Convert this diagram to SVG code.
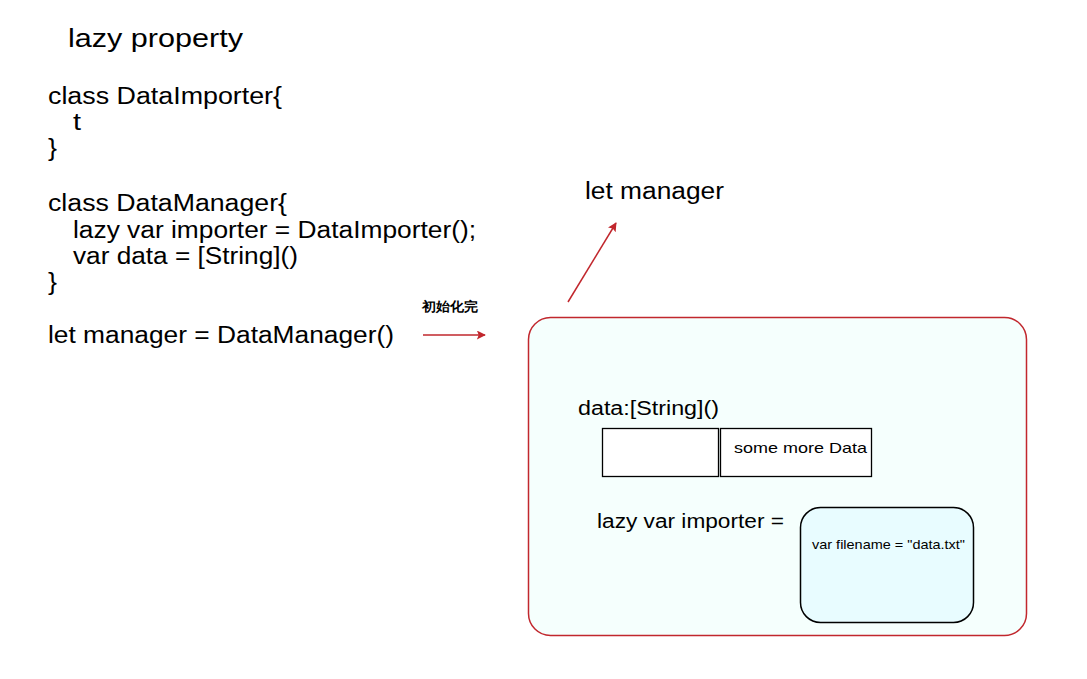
<svg xmlns="http://www.w3.org/2000/svg" width="1087" height="679" viewBox="0 0 1087 679">
<style>
.t{font-family:"Liberation Sans",Arial,sans-serif;fill:#000}
.code{font-size:23px}
.red{stroke:#c1272d;stroke-width:1.5;fill:none}
</style>
<defs>
<marker id="ah" viewBox="0 0 10 10" refX="9" refY="5" markerWidth="10" markerHeight="9" markerUnits="userSpaceOnUse" orient="auto">
<path d="M0,0 L10,5 L0,10 L2,5 z" fill="#c1272d"/>
</marker>
</defs>
<rect width="1087" height="679" fill="#fff"/>
<g id="code">
<text class="t" x="68" y="47" font-size="25" textLength="175" lengthAdjust="spacingAndGlyphs">lazy property</text>
<text class="t code" x="48" y="104" textLength="234" lengthAdjust="spacingAndGlyphs">class DataImporter{</text>
<text class="t code" x="73" y="130" textLength="8" lengthAdjust="spacingAndGlyphs">t</text>
<text class="t code" x="48" y="156" textLength="9" lengthAdjust="spacingAndGlyphs">}</text>
<text class="t code" x="48" y="211" textLength="239" lengthAdjust="spacingAndGlyphs">class DataManager{</text>
<text class="t code" x="73" y="238" textLength="403" lengthAdjust="spacingAndGlyphs">lazy var importer = DataImporter();</text>
<text class="t code" x="73" y="264" textLength="225" lengthAdjust="spacingAndGlyphs">var data = [String]()</text>
<text class="t code" x="48" y="290" textLength="9" lengthAdjust="spacingAndGlyphs">}</text>
<text class="t code" x="48" y="343" textLength="346" lengthAdjust="spacingAndGlyphs">let manager = DataManager()</text>
</g>
<g id="label-init">
<text class="t" x="422" y="311" font-size="13" font-family="'Noto Sans CJK SC',sans-serif" font-weight="bold" textLength="56" lengthAdjust="spacingAndGlyphs">初始化完</text>
</g>
<g id="label-manager">
<text class="t" x="585" y="199" font-size="23" textLength="139" lengthAdjust="spacingAndGlyphs">let manager</text>
</g>
<g id="manager-box">
<rect x="528.5" y="317.5" width="498" height="318" rx="22" fill="#f5fffd" stroke="#c1272d" stroke-width="1.5"/>
<text class="t" x="578" y="415" font-size="20" textLength="141" lengthAdjust="spacingAndGlyphs">data:[String]()</text>
<text class="t" x="597" y="528" font-size="20" textLength="187" lengthAdjust="spacingAndGlyphs">lazy var importer =</text>
</g>
<g id="data-cell-1">
<rect x="602.5" y="428.5" width="116" height="48" fill="#fff" stroke="#000" stroke-width="1.3"/>
</g>
<g id="data-cell-2">
<rect x="720.5" y="428.5" width="151" height="48" fill="#fff" stroke="#000" stroke-width="1.3"/>
<text class="t" x="734" y="453" font-size="15" textLength="133" lengthAdjust="spacingAndGlyphs">some more Data</text>
</g>
<g id="importer-box">
<rect x="800.5" y="507.5" width="173" height="115" rx="20" fill="#e8fcff" stroke="#000" stroke-width="1.5"/>
<text class="t" x="812" y="549" font-size="13" textLength="153" lengthAdjust="spacingAndGlyphs">var filename = "data.txt"</text>
</g>
<g id="connectors">
<line class="red" x1="423" y1="335" x2="485" y2="335" marker-end="url(#ah)"/>
<line class="red" x1="568" y1="302" x2="616" y2="223" marker-end="url(#ah)"/>
</g>
</svg>
